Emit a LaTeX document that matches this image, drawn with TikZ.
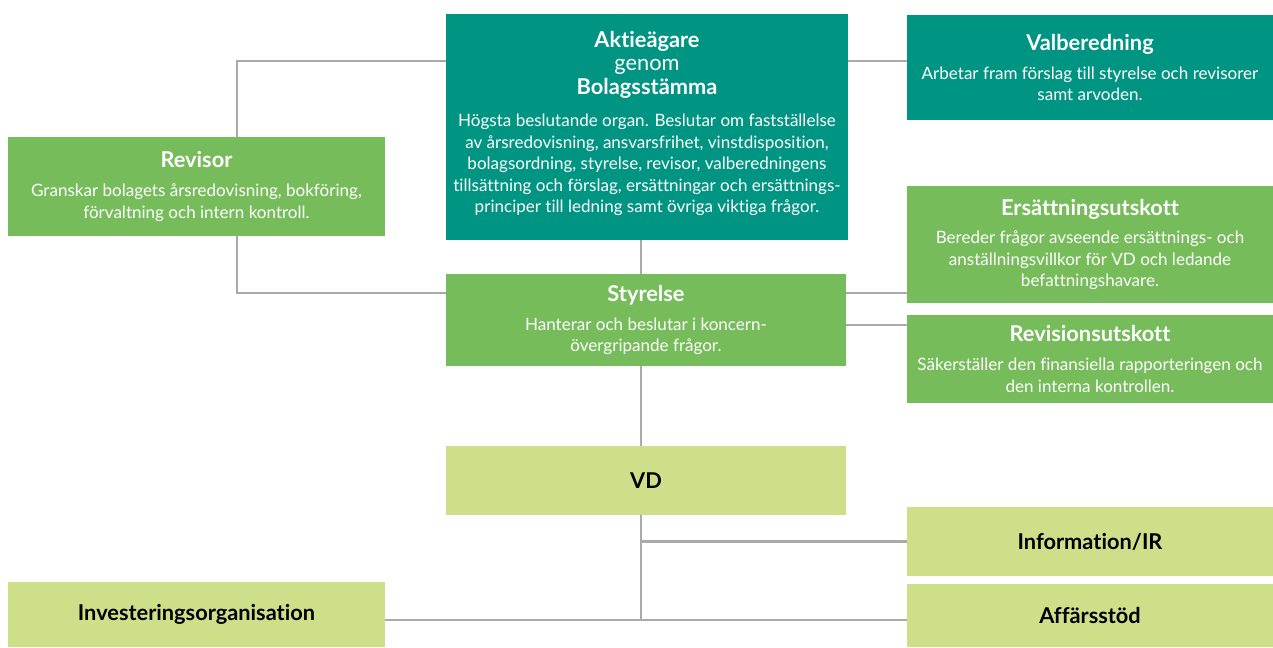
\documentclass[tikz,border=0pt]{standalone}
\usepackage{fontspec}
\setmainfont{Lato}[Ligatures=NoCommon]
\usetikzlibrary{backgrounds}
\definecolor{agteal}{RGB}{0,148,130}
\definecolor{aggreen}{RGB}{118,188,91}
\definecolor{aglight}{RGB}{206,223,138}
\definecolor{agline}{RGB}{170,170,170}
\newcommand{\hd}[1]{{\fontsize{12.4}{14}\selectfont\bfseries #1}}

\tikzstyle{box}=[rectangle,inner sep=0pt,align=center,text=white,font=\fontsize{9.7}{12.3}\selectfont]
\tikzstyle{conn}=[draw=agline,line width=1.5pt]

\begin{document}
\begin{tikzpicture}[x=0.02cm,y=-0.02cm]
\useasboundingbox (0,0) rectangle (1273,647);

% top level
\node[box,fill=agteal,minimum width=8.04cm,minimum height=4.52cm] (aktie) at (647,127) {\hd{Aktieägare}\\[1.2pt] {\fontsize{12.4}{14}\selectfont genom}\\[1.2pt] \hd{Bolagsstämma}\\[5.9pt] Högsta beslutande organ. Beslutar om fastställelse\\ av årsredovisning, ansvarsfrihet, vinstdisposition,\\ bolagsordning, styrelse, revisor, valberedningens\\ tillsättning och förslag, ersättningar och ersättnings-\\ principer till ledning samt övriga viktiga frågor.\\[-6.5pt]};
\node[box,fill=agteal,minimum width=7.32cm,minimum height=2.1cm] (valb) at (1090,67.5) {\hd{Valberedning}\\[4pt] Arbetar fram förslag till styrelse och revisorer\\ samt arvoden.};
\node[box,fill=aggreen,minimum width=7.54cm,minimum height=1.98cm] (revisor) at (196.5,186.5) {\hd{Revisor}\\[4pt] Granskar bolagets årsredovisning, bokföring,\\ förvaltning och intern kontroll.};

% styrelse och utskott
\node[box,fill=aggreen,minimum width=8cm,minimum height=1.84cm] (styrelse) at (646,320) {\hd{Styrelse}\\[4pt] Hanterar och beslutar i koncern-\\ övergripande frågor.};
\node[box,fill=aggreen,minimum width=7.32cm,minimum height=2.34cm] (ersu) at (1090,244.5) {\hd{Ersättningsutskott}\\[4pt] Bereder frågor avseende ersättnings- och\\ anställningsvillkor för VD och ledande\\ befattningshavare.};
\node[box,fill=aggreen,minimum width=7.32cm,minimum height=1.76cm] (revu) at (1090,359) {\hd{Revisionsutskott}\\[4pt] Säkerställer den finansiella rapporteringen och\\ den interna kontrollen.};

% ledning
\node[box,fill=aglight,text=black,minimum width=8cm,minimum height=1.38cm] (vd) at (646,480.5) {\hd{VD}};
\node[box,fill=aglight,text=black,minimum width=7.32cm,minimum height=1.38cm] (info) at (1090,541.5) {\hd{Information/IR}};
\node[box,fill=aglight,text=black,minimum width=7.54cm,minimum height=1.3cm] (inv) at (196.5,614.5) {\hd{Investeringsorganisation}};
\node[box,fill=aglight,text=black,minimum width=7.32cm,minimum height=1.26cm] (affs) at (1090,615.5) {\hd{Affärsstöd}};

\coordinate (revtop) at (237,61);
\coordinate (revbot) at (237,293);
\coordinate (stem) at (641,620);

\begin{scope}[on background layer]
\draw[conn] (aktie.west |- revtop) -- (revtop) -- (revbot) -- (styrelse.west |- revbot);
\draw[conn] (aktie.east |- revtop) -- (valb.west |- revtop);
\draw[conn] (aktie.south -| stem) -- (styrelse.north -| stem);
\draw[conn] (styrelse.east |- revbot) -- (ersu.west |- revbot);
\draw[conn] ([yshift=-0.1cm]styrelse.east) -- ([yshift=-0.1cm]styrelse.east -| revu.west);
\draw[conn] (styrelse.south -| stem) -- (vd.north -| stem);
\draw[conn] (vd.south -| stem) -- (stem);
\draw[conn] (stem |- info.west) -- (info.west);
\draw[conn] (inv.east |- stem) -- (affs.west |- stem);
\end{scope}
\end{tikzpicture}
\end{document}
